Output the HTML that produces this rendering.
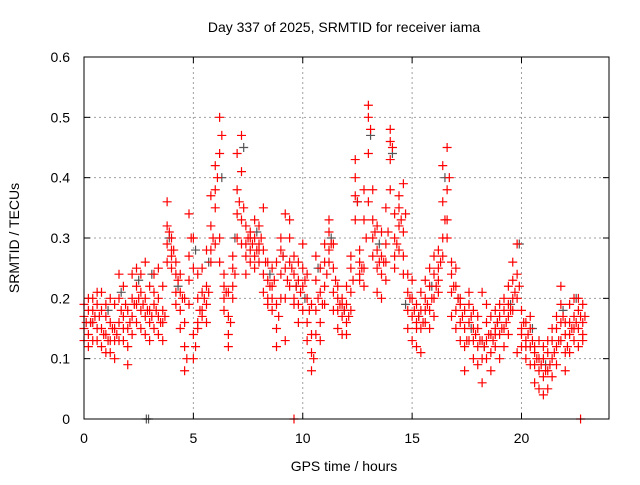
<!DOCTYPE html>
<html><head><meta charset="utf-8"><style>
body{margin:0;background:#fff;}
svg text{font-family:"Liberation Sans",sans-serif;font-size:14px;fill:#000;}
</style></head><body>
<svg id="chart" width="640" height="480" xmlns="http://www.w3.org/2000/svg">
<text x="344" y="32" text-anchor="middle">Day 337 of 2025, SRMTID for receiver iama</text>
<text transform="translate(19,238) rotate(-90)" text-anchor="middle">SRMTID / TECUs</text>
<text x="344" y="471" text-anchor="middle">GPS time / hours</text>
<g id="grid"></g>
<g id="ticks"></g>
<g id="gray"></g>
<g id="red"></g>
<rect x="84" y="57" width="525" height="362" fill="none" stroke="#000" stroke-width="1"/>
</svg>
<script>
const xTicks = [0,5,10,15,20];
const yTicks = [0,0.1,0.2,0.3,0.4,0.5,0.6];
const yTickLabels = ["0","0.1","0.2","0.3","0.4","0.5","0.6"];
const times = [0,0.2,0.4,0.6,0.8,1.0,1.2,1.4,1.6,1.8,2.0,2.2,2.4,2.6,2.8,3.0,3.2,3.4,3.6,3.8,4.0,4.2,4.4,4.6,4.8,5.0,5.2,5.4,5.6,5.8,6.0,6.2,6.4,6.6,6.8,7.0,7.2,7.4,7.6,7.8,8.0,8.2,8.4,8.6,8.8,9.0,9.2,9.4,9.6,9.8,10.0,10.2,10.4,10.6,10.8,11.0,11.2,11.4,11.6,11.8,12.0,12.2,12.4,12.6,12.8,13.0,13.2,13.4,13.6,13.8,14.0,14.2,14.4,14.6,14.8,15.0,15.2,15.4,15.6,15.8,16.0,16.2,16.4,16.6,16.8,17.0,17.2,17.4,17.6,17.8,18.0,18.2,18.4,18.6,18.8,19.0,19.2,19.4,19.6,19.8,20.0,20.2,20.4,20.6,20.8,21.0,21.2,21.4,21.6,21.8,22.0,22.2,22.4,22.6,22.8];
const valsA = [.17,.14,.16,.19,.12,.11,.13,.10,.20,.13,.09,.17,.19,.18,.17,.13,.15,.14,.16,.26,.27,.21,.18,.08,.23,.10,.15,.18,.19,.26,.35,.44,.18,.14,.20,.30,.33,.29,.28,.27,.26,.21,.20,.18,.12,.24,.13,.22,.20,.16,.22,.16,.08,.14,.13,.22,.26,.25,.18,.14,.16,.18,.33,.23,.25,.36,.27,.21,.20,.23,.38,.25,.28,.24,.15,.13,.12,.11,.16,.15,.17,.21,.27,.33,.17,.15,.13,.08,.13,.10,.09,.06,.10,.08,.12,.10,.12,.14,.18,.11,.12,.10,.09,.06,.05,.04,.05,.07,.09,.13,.08,.11,.13,.12,.13];
const valsB = [.15,.18,.13,.15,.15,.14,.16,.15,.24,.17,.15,.20,.22,.21,.20,.18,.19,.17,.18,.29,.30,.24,.21,.12,.27,.14,.20,.21,.22,.28,.42,.50,.22,.17,.25,.34,.41,.32,.31,.30,.29,.24,.23,.22,.15,.28,.20,.26,.24,.19,.25,.20,.11,.18,.16,.26,.28,.29,.20,.17,.19,.21,.37,.26,.33,.44,.30,.25,.24,.26,.43,.30,.32,.27,.18,.17,.16,.15,.20,.18,.20,.25,.30,.38,.21,.18,.16,.12,.16,.13,.12,.10,.13,.11,.15,.14,.15,.17,.20,.20,.15,.13,.12,.09,.08,.07,.08,.10,.12,.16,.11,.14,.15,.15,.16];
const valsC = [.19,.12,.20,.21,.18,.19,.20,.19,.16,.22,.18,.24,.25,.15,.14,.22,.21,.20,.22,.32,.28,.26,.15,.16,.34,.25,.24,.25,.28,.32,.29,.30,.24,.21,.27,.38,.47,.27,.26,.33,.32,.28,.26,.25,.19,.30,.25,.30,.19,.23,.29,.24,.14,.23,.21,.29,.31,.21,.22,.20,.22,.25,.40,.28,.38,.50,.33,.28,.27,.35,.46,.34,.35,.39,.21,.20,.19,.18,.23,.22,.24,.28,.36,.45,.24,.22,.19,.15,.19,.15,.15,.13,.16,.14,.18,.17,.18,.19,.23,.24,.18,.16,.15,.12,.10,.10,.11,.13,.15,.19,.14,.16,.17,.18,.19];
const valsD = [.13,.20,.18,.13,.21,.17,.11,.13,.13,.15,.12,.14,.16,.24,.26,.16,.24,.25,.13,.36,.25,.19,.24,.20,.19,.30,.16,.17,.16,.37,.38,.26,.20,.12,.22,.44,.29,.24,.30,.25,.28,.35,.19,.20,.26,.20,.34,.33,.27,.26,.18,.13,.19,.27,.25,.19,.33,.18,.15,.19,.14,.27,.43,.24,.22,.52,.38,.32,.31,.29,.48,.27,.37,.31,.24,.23,.15,.21,.18,.25,.27,.23,.42,.30,.26,.25,.20,.18,.21,.18,.17,.21,.19,.17,.14,.19,.20,.22,.26,.29,.14,.12,.17,.11,.13,.12,.13,.15,.17,.22,.16,.19,.20,.20,.14];
const valsE = [.16,.16,.17,.17,.14,.13,.15,.14,.18,.19,.16,.19,.20,.19,.18,.17,.18,.16,.17,.31,.28,.23,.20,.10,.30,.12,.18,.20,.21,.30,.40,.47,.21,.16,.24,.36,.35,.30,.29,.28,.30,.26,.22,.23,.17,.27,.23,.25,.22,.21,.23,.18,.10,.20,.19,.24,.29,.23,.19,.18,.17,.23,.36,.25,.30,.48,.31,.26,.26,.31,.45,.29,.33,.34,.20,.18,.17,.16,.19,.20,.22,.26,.33,.40,.22,.20,.17,.13,.17,.14,.13,.12,.14,.13,.16,.15,.16,.18,.21,.22,.16,.14,.13,.10,.09,.08,.09,.11,.13,.17,.12,.15,.16,.17,.17];
const grayTimes = [0.3,1.1,1.7,2.5,3.1,3.9,4.3,5.1,5.7,6.3,6.9,7.3,7.9,8.5,9.1,9.7,10.1,10.7,11.3,11.9,12.5,13.1,13.5,14.1,14.7,15.3,15.9,16.5,17.1,17.7,18.3,18.9,19.5,19.9,20.5,21.1,21.9,22.5];
const grayVals = [.16,.18,.21,.23,.24,.30,.22,.28,.26,.40,.30,.45,.31,.24,.27,.22,.20,.25,.30,.18,.36,.47,.29,.44,.19,.17,.22,.40,.20,.15,.12,.16,.19,.29,.15,.09,.18,.20];
const zeroTimes = [9.6,22.7];
const grayZeroTimes = [2.85,2.95];
const NS="http://www.w3.org/2000/svg";
const X0=84,X1=609,Y0=419,Y1=57,XMAX=24,YMAX=0.6;
const xs=t=>X0+(X1-X0)*t/XMAX;
const ys=v=>Y0-(Y0-Y1)*v/YMAX;
function mk(tag,attrs,parent){const e=document.createElementNS(NS,tag);for(const k in attrs)e.setAttribute(k,attrs[k]);parent.appendChild(e);return e;}
const grid=document.getElementById('grid'),ticks=document.getElementById('ticks');
xTicks.forEach((t,i)=>{
  const x=xs(t);
  if(t>0){const g=mk('line',{x1:x,x2:x,y1:Y1,y2:Y0,stroke:'#a0a0a0','stroke-dasharray':'2,3'},grid);
  
  }
  mk('line',{x1:x,x2:x,y1:Y0,y2:Y0-6,stroke:'#000'},ticks);
  mk('line',{x1:x,x2:x,y1:Y1,y2:Y1+6,stroke:'#000'},ticks);
  const tx=mk('text',{x:x,y:Y0+24,'text-anchor':'middle'},ticks);
  
  
  tx.textContent=String(t);
});
yTicks.forEach((v,i)=>{
  const y=ys(v);
  if(v>0&&v<YMAX){const g=mk('line',{x1:X0,x2:X1,y1:y,y2:y,stroke:'#a0a0a0','stroke-dasharray':'2,3'},grid);
  
  }
  mk('line',{x1:X0,x2:X0+6,y1:y,y2:y,stroke:'#000'},ticks);
  mk('line',{x1:X1,x2:X1-6,y1:y,y2:y,stroke:'#000'},ticks);
  const tx=mk('text',{x:X0-14,y:y+5,'text-anchor':'end'},ticks);
  
  
  tx.textContent=yTickLabels[i];
});
function plus(parent,t,v,color,name){
  const x=xs(t),y=ys(v);
  const p=mk('path',{d:`M${x-4.5},${y}h9M${x},${y-4.5}v9`,stroke:color,'stroke-width':1.2,fill:'none'},parent);
  
  
}
const gray=document.getElementById('gray'),red=document.getElementById('red');
grayTimes.forEach((t,i)=>plus(gray,t,grayVals[i],'#555','gray-point'));
grayZeroTimes.forEach(t=>plus(gray,t,0,'#555','gray-zero-point'));
[valsA,valsB,valsC,valsD].forEach(arr=>{
  times.forEach((t,i)=>plus(red,t,arr[i],'#ff0000','red-point'));
});
times.forEach((t,i)=>plus(red,t+0.1,valsE[i],'#ff0000','red-point'));
zeroTimes.forEach(t=>plus(red,t,0,'#ff0000','red-zero-point'));
</script>
</body></html>
